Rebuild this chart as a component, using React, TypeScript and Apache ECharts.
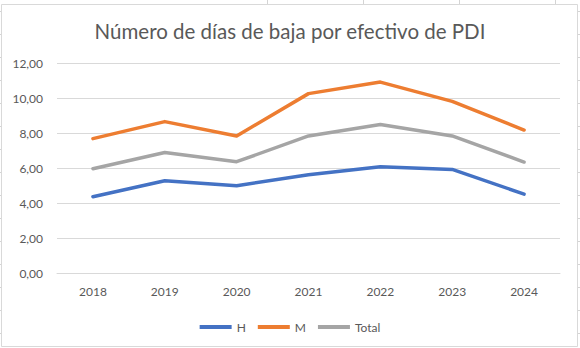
import React, { useEffect, useRef } from "react";
import * as echarts from "echarts";

const years = ["2018", "2019", "2020", "2021", "2022", "2023", "2024"];
const hValues = [4.36, 5.27, 4.99, 5.62, 6.07, 5.92, 4.51];
const mValues = [7.68, 8.65, 7.83, 10.25, 10.91, 9.81, 8.17];
const totalValues = [5.96, 6.89, 6.36, 7.83, 8.49, 7.83, 6.34];
const seriesNames = ["H", "M", "Total"];
const seriesColors = ["#4472C4", "#ED7D31", "#A5A5A5"];
const titleText = "Número de días de baja por efectivo de PDI";

export default function App() {
  const ref = useRef<HTMLDivElement>(null);
  useEffect(() => {
    if (!ref.current) return;
    const chart = echarts.init(ref.current, undefined, { renderer: "svg" });
    const font = "Lato, 'Liberation Sans', sans-serif";
    const valuesList = [hValues, mValues, totalValues];
    const sheetLines: any[] = [];
    [267, 363, 459, 555].forEach((x) => {
      sheetLines.push({
        type: "line",
        shape: { x1: x + 0.5, y1: 0, x2: x + 0.5, y2: 4 },
        style: { stroke: "#D4D4D4", lineWidth: 1 },
        silent: true,
      });
    });
    for (let y = 11; y < 348; y += 23) {
      sheetLines.push({
        type: "line",
        shape: { x1: 0, y1: y + 0.5, x2: 1, y2: y + 0.5 },
        style: { stroke: "#D4D4D4", lineWidth: 1 },
        silent: true,
      });
      sheetLines.push({
        type: "line",
        shape: { x1: 578, y1: y + 0.5, x2: 580, y2: y + 0.5 },
        style: { stroke: "#D4D4D4", lineWidth: 1 },
        silent: true,
      });
    }
    chart.setOption({
      animation: false,
      backgroundColor: "#FFFFFF",
      title: {
        text: titleText,
        left: "center",
        top: 15,
        textStyle: {
          fontFamily: font,
          fontSize: 20.5,
          fontWeight: "normal",
          color: "#595959",
        },
      },
      legend: {
        data: seriesNames,
        left: "center",
        top: 316,
        icon: "rect",
        itemWidth: 32,
        itemHeight: 4,
        itemGap: 12,
        textStyle: { fontFamily: font, fontSize: 12, color: "#595959" },
      },
      grid: { left: 57, right: 20, top: 63, bottom: 75, containLabel: false },
      xAxis: {
        type: "category",
        data: years,
        boundaryGap: true,
        axisLine: { show: true, lineStyle: { color: "#D9D9D9", width: 1 } },
        axisTick: { show: false },
        axisLabel: { margin: 12, fontFamily: font, fontSize: 12, color: "#595959" },
      },
      yAxis: {
        type: "value",
        min: 0,
        max: 12,
        interval: 2,
        axisLine: { show: false },
        axisTick: { show: false },
        splitLine: { lineStyle: { color: "#D9D9D9", width: 1 } },
        axisLabel: {
          margin: 14,
          fontFamily: font,
          fontSize: 12,
          color: "#595959",
          formatter: (v: number) => v.toFixed(2).replace(".", ","),
        },
      },
      series: seriesNames.map((name, i) => ({
        name,
        type: "line",
        data: valuesList[i],
        symbol: "none",
        color: seriesColors[i],
        lineStyle: { width: 3.5, color: seriesColors[i], cap: "round", join: "round" },
      })),
      graphic: [
        {
          type: "rect",
          shape: { x: 1.5, y: 4.5, width: 576, height: 342 },
          style: { fill: "none", stroke: "#D9D9D9", lineWidth: 1 },
          silent: true,
          z: -1,
        },
        ...sheetLines,
      ],
    });
    return () => chart.dispose();
  }, []);
  return (
    <div
      ref={ref}
      style={{ position: "absolute", left: 0, top: 0, width: 580, height: 348 }}
    />
  );
}
